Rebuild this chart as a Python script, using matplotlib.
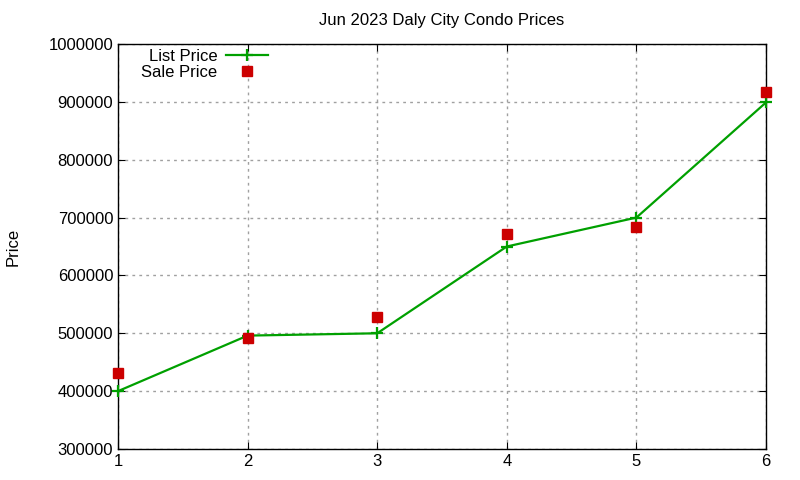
import matplotlib
matplotlib.use("Agg")
import matplotlib.pyplot as plt

plt.rcParams['font.family'] = ['Liberation Sans', 'DejaVu Sans']

bedrooms = [1, 2, 3, 4, 5, 6]
list_price = [400000, 496000, 500000, 650000, 700000, 899000]
sale_price = [431000, 491000, 529000, 671000, 684000, 917000]

fig = plt.figure(figsize=(8, 4.8), dpi=100)
ax = fig.add_axes([0.1475, 0.0646, 0.81, 0.8437])

ax.plot(bedrooms, list_price, color='#00a000', lw=1.6, marker='+', ms=9, mew=1.6,
        label='List Price', clip_on=False, zorder=3)
ax.plot(bedrooms, sale_price, ls='none', color='#cc0000', marker='s', ms=6.5,
        label='Sale Price', clip_on=False, zorder=3)

ax.set_xlim(1, 6)
ax.set_ylim(300000, 1000000)
ax.set_xticks(bedrooms)
ax.set_yticks(range(300000, 1000001, 100000))
ax.ticklabel_format(style='plain', axis='y')
ax.grid(True, color='#a0a0a0', ls=(0, (2, 3)), lw=1)
ax.tick_params(direction='in', top=True, right=True, labelsize=12, length=5)
for s in ax.spines.values():
    s.set_linewidth(1)

ax.set_title('Jun 2023 Daly City Condo Prices', fontsize=12, pad=14)
ax.set_ylabel('Price', fontsize=12)
ax.yaxis.set_label_coords(-0.151, 0.5)

ax.legend(loc='upper right', bbox_to_anchor=(0.241, 1.004), frameon=False, markerfirst=False,
          fontsize=12, handlelength=2.5, handletextpad=0.5, labelspacing=0.05, borderaxespad=0)

fig.savefig('out.png')
